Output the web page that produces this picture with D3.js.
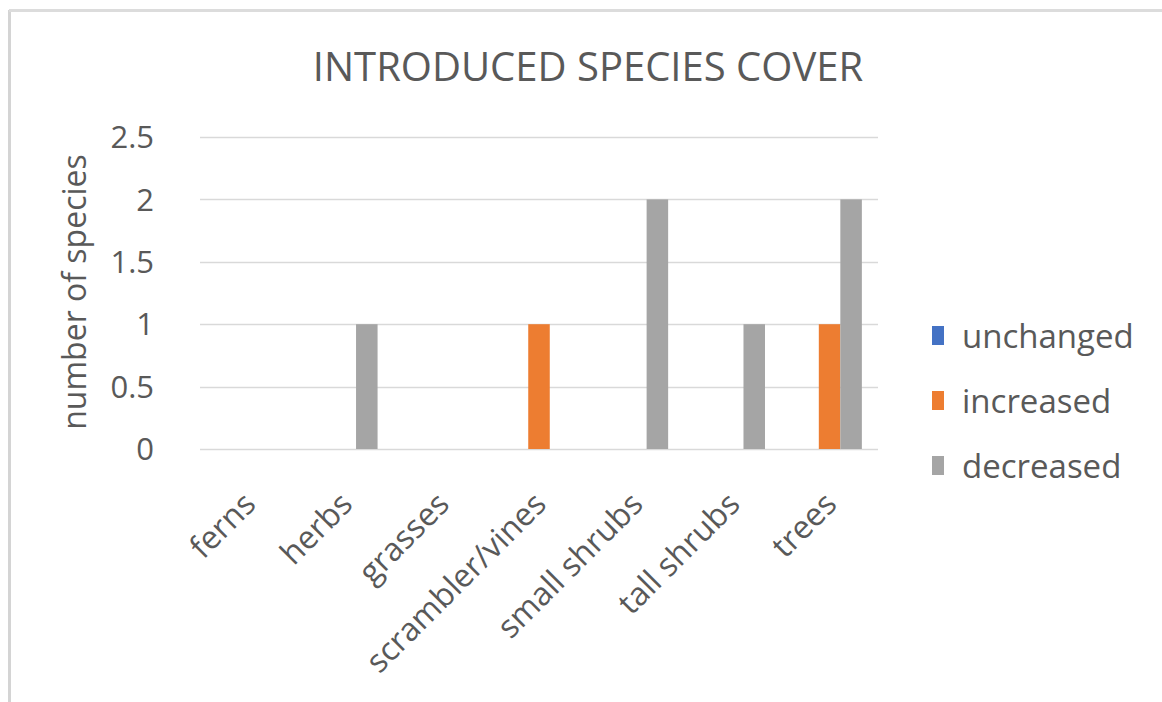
<!DOCTYPE html>
<html>
<head>
<meta charset="utf-8">
<script src="https://cdn.jsdelivr.net/npm/d3@7"></script>
<style>
  body { margin: 0; background: #fff; }
  text { font-family: "Open Sans", sans-serif; fill: #595959; }
</style>
</head>
<body>
<div id="chart"></div>
<script>
// chart data
const categories = ["ferns", "herbs", "grasses", "scrambler/vines", "small shrubs", "tall shrubs", "trees"];
const seriesNames = ["unchanged", "increased", "decreased"];
const unchanged = [0, 0, 0, 0, 0, 0, 0];
const increased = [0, 0, 0, 1, 0, 0, 1];
const decreased = [0, 1, 0, 0, 2, 1, 2];
const yTicks = [0, 0.5, 1, 1.5, 2, 2.5];
const colors = ["#4472C4", "#ED7D31", "#A5A5A5"];

const width = 1162;
const height = 702;
const plot = { left: 200, right: 878, top: 137, bottom: 449 };

const svg = d3.select("#chart")
    .append("svg")
    .attr("width", width)
    .attr("height", height);

// frame edges
svg.append("line")
    .attr("x1", 9.5).attr("x2", 9.5).attr("y1", 10).attr("y2", height)
    .attr("stroke", "#d4d4d4").attr("stroke-width", 3);
svg.append("line")
    .attr("x1", 9).attr("x2", width).attr("y1", 10.5).attr("y2", 10.5)
    .attr("stroke", "#dcdcdc").attr("stroke-width", 3);

// title
svg.append("text")
    .attr("x", 588)
    .attr("y", 81)
    .attr("text-anchor", "middle")
    .style("font-size", "40px")
    .text("INTRODUCED SPECIES COVER");

// scales
const x0 = d3.scaleBand()
    .domain(categories)
    .range([plot.left, plot.right])
    .paddingInner(1.5 / 4.5)
    .paddingOuter(0.75 / 4.5);

const x1 = d3.scaleBand()
    .domain(seriesNames)
    .range([0, x0.bandwidth()]);

const y = d3.scaleLinear()
    .domain([0, 2.5])
    .range([plot.bottom, plot.top]);

// gridlines
svg.append("g")
    .selectAll("line")
    .data(yTicks)
    .enter()
    .append("line")
    .attr("x1", plot.left)
    .attr("x2", plot.right)
    .attr("y1", d => Math.round(y(d)) + 0.5)
    .attr("y2", d => Math.round(y(d)) + 0.5)
    .attr("stroke", "#d9d9d9")
    .attr("stroke-width", 1.5);

// y tick labels
svg.append("g")
    .selectAll("text")
    .data(yTicks)
    .enter()
    .append("text")
    .attr("x", 154)
    .attr("y", d => y(d))
    .attr("dy", "0.36em")
    .attr("text-anchor", "end")
    .style("font-size", "31px")
    .text(d => d);

// y axis title
svg.append("text")
    .attr("transform", "translate(86, 292) rotate(-90)")
    .attr("text-anchor", "middle")
    .style("font-size", "32px")
    .text("number of species");

// bars
const seriesValues = [unchanged, increased, decreased];
const rows = categories.map((c, i) => ({
    category: c,
    values: seriesNames.map((s, j) => ({ series: s, value: seriesValues[j][i], color: colors[j] }))
}));

const groups = svg.append("g")
    .selectAll("g")
    .data(rows)
    .enter()
    .append("g")
    .attr("transform", d => `translate(${x0(d.category)}, 0)`);

groups.selectAll("rect")
    .data(d => d.values.filter(v => v.value > 0))
    .enter()
    .append("rect")
    .attr("x", d => x1(d.series))
    .attr("width", x1.bandwidth())
    .attr("y", d => y(d.value))
    .attr("height", d => y(0) - y(d.value))
    .attr("fill", d => d.color);

// category labels
svg.append("g")
    .selectAll("text")
    .data(categories)
    .enter()
    .append("text")
    .attr("text-anchor", "end")
    .attr("transform", d => `translate(${x0(d) + x0.bandwidth() / 2 + 9}, 506) rotate(-45)`)
    .style("font-size", "32px")
    .text(d => d);

// legend
const legend = svg.append("g")
    .selectAll("g")
    .data(seriesNames)
    .enter()
    .append("g")
    .attr("transform", (d, i) => `translate(932, ${336 + i * 65})`);

legend.append("rect")
    .attr("x", 0)
    .attr("y", -10)
    .attr("width", 12)
    .attr("height", 19)
    .attr("fill", (d, i) => colors[i]);

legend.append("text")
    .attr("x", 30)
    .attr("dy", "0.36em")
    .style("font-size", "33px")
    .text(d => d);
</script>
</body>
</html>
